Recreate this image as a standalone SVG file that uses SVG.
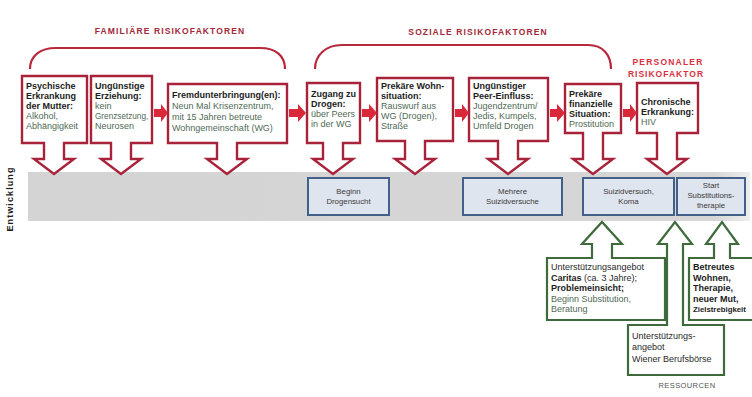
<svg xmlns="http://www.w3.org/2000/svg" width="752" height="397" viewBox="0 0 752 397">
<defs>
<style>
text{font-family:"Liberation Sans",Arial,sans-serif;font-size:9px;fill:#2a2a2a}
.b{font-weight:bold;fill:#1c1c1c}
.d{fill:#4f6a55}
.risk{fill:#fff;stroke:#a8223a;stroke-width:2.4;stroke-linejoin:miter}
.res{fill:#fff;stroke:#3f6b3c;stroke-width:2.2}
.ev{fill:#dfe5ee;stroke:#42608a;stroke-width:2}
.evt{font-size:7.8px;fill:#3a3a3a;text-anchor:middle}
.brace{fill:none;stroke:#b8283c;stroke-width:2.2}
.hdr{font-size:8.5px;font-weight:bold;fill:#a3283a;letter-spacing:1.1px}
.arr{fill:#d8283a}
</style>
<linearGradient id="band" x1="0" y1="0" x2="1" y2="0">
<stop offset="0" stop-color="#d4d4d4"/>
<stop offset="0.95" stop-color="#d6d6d6"/>
<stop offset="1" stop-color="#eeeeee"/>
</linearGradient>
</defs>
<rect width="752" height="397" fill="#ffffff"/>

<g id="headers">
<text class="hdr" x="170" y="34" text-anchor="middle">FAMILIÄRE RISIKOFAKTOREN</text>
<text class="hdr" x="478" y="35" text-anchor="middle">SOZIALE RISIKOFAKTOREN</text>
<text class="hdr" x="668" y="65" text-anchor="middle" style="fill:#d8303f;letter-spacing:1.2px">PERSONALER</text>
<text class="hdr" x="666" y="77" text-anchor="middle" style="fill:#d8303f;letter-spacing:1px">RISIKOFAKTOR</text>
<path class="brace" d="M30,69 C30,56 40,48 56,48 L260,48 C276,48 285,56 285,69"/>
<path class="brace" d="M315,69 C315,55 326,45 342,45 L588,45 C603,45 611,55 611,69"/>
</g>

<g id="band">
<rect x="28" y="172" width="722" height="49" fill="url(#band)"/>
<text class="b" transform="translate(13,199) rotate(-90)" text-anchor="middle" style="letter-spacing:1.1px">Entwicklung</text>
</g>

<g id="r1">
<path class="risk" d="M22,76 H87 V143 H64 V159 H74 L54,174 L34,159 H44 V143 H22 Z"/>
<text x="26" y="89" class="b">Psychische</text>
<text x="26" y="99" class="b">Erkrankung</text>
<text x="26" y="109" class="b">der Mutter:</text>
<text x="26" y="119" class="d">Alkohol,</text>
<text x="26" y="129" class="d">Abhängigkeit</text>
</g>
<g id="r2">
<path class="risk" d="M91,76 H152 V143 H131 V159 H141 L121,174 L101,159 H111 V143 H91 Z"/>
<text x="95" y="89" class="b">Ungünstige</text>
<text x="95" y="99" class="b">Erziehung:</text>
<text x="95" y="109" class="d">kein</text>
<text x="95" y="119" class="d" style="font-size:8.2px">Grenzsetzung,</text>
<text x="95" y="129" class="d">Neurosen</text>
</g>
<g id="r3">
<path class="risk" d="M168,84 H287 V143 H237 V159 H247 L227,174 L207,159 H217 V143 H168 Z"/>
<text x="172" y="98" class="b">Fremdunterbringung(en):</text>
<text x="172" y="109" class="d">Neun Mal Krisenzentrum,</text>
<text x="172" y="120" class="d">mit 15 Jahren betreute</text>
<text x="172" y="131" class="d">Wohngemeinschaft (WG)</text>
</g>
<g id="r4">
<path class="risk" d="M307,83 H360 V143 H343 V159 H353 L333,174 L313,159 H323 V143 H307 Z"/>
<text x="311" y="97" class="b">Zugang zu</text>
<text x="311" y="107" class="b">Drogen:</text>
<text x="311" y="117" class="d">über Peers</text>
<text x="311" y="127" class="d">in der WG</text>
</g>
<g id="r5">
<path class="risk" d="M377,78 H453 V141 H425 V159 H435 L415,174 L395,159 H405 V141 H377 Z"/>
<text x="381" y="89" class="b">Prekäre Wohn-</text>
<text x="381" y="99" class="b">situation:</text>
<text x="381" y="109" class="d">Rauswurf aus</text>
<text x="381" y="119" class="d">WG (Drogen),</text>
<text x="381" y="129" class="d">Straße</text>
</g>
<g id="r6">
<path class="risk" d="M469,78 H548 V141 H518 V159 H528 L508,174 L488,159 H498 V141 H469 Z"/>
<text x="473" y="89" class="b">Ungünstiger</text>
<text x="473" y="99" class="b">Peer-Einfluss:</text>
<text x="473" y="109" class="d">Jugendzentrum/</text>
<text x="473" y="119" class="d">Jedis, Kumpels,</text>
<text x="473" y="129" class="d">Umfeld Drogen</text>
</g>
<g id="r7">
<path class="risk" d="M565,84 H621 V133 H603 V159 H613 L593,174 L573,159 H583 V133 H565 Z"/>
<text x="569" y="97" class="b">Prekäre</text>
<text x="569" y="107" class="b">finanzielle</text>
<text x="569" y="117" class="b">Situation:</text>
<text x="569" y="127" class="d">Prostitution</text>
</g>
<g id="r8">
<path class="risk" d="M637,83 H698 V133 H677 V159 H687 L667,174 L647,159 H657 V133 H637 Z"/>
<text x="641" y="105" class="b">Chronische</text>
<text x="641" y="115" class="b">Erkrankung:</text>
<text x="641" y="125" class="d">HIV</text>
</g>

<g id="e1"><rect class="ev" x="308" y="178" width="81" height="37"/>
<text class="evt" x="348.5" y="194">Beginn</text><text class="evt" x="348.5" y="204">Drogensucht</text></g>
<g id="e2"><rect class="ev" x="463" y="178" width="99" height="37"/>
<text class="evt" x="512.5" y="194">Mehrere</text><text class="evt" x="512.5" y="204">Suizidversuche</text></g>
<g id="e3"><rect class="ev" x="583" y="178" width="91" height="37"/>
<text class="evt" x="628.5" y="194">Suizidversuch,</text><text class="evt" x="628.5" y="204">Koma</text></g>
<g id="e4"><rect class="ev" x="677" y="178" width="68" height="37"/>
<text class="evt" x="711" y="188">Start</text><text class="evt" x="711" y="198">Substitutions-</text><text class="evt" x="711" y="208">therapie</text></g>

<g id="g1">
<path class="res" d="M547,320 H665 V258 H612 V244 H622 L602,222 L582,244 H592 V258 H547 Z"/>
<text x="551" y="270">Unterstützungsangebot</text>
<text x="551" y="280.5"><tspan class="b">Caritas</tspan> (ca. 3 Jahre);</text>
<text x="551" y="291" class="b">Problemeinsicht;</text>
<text x="551" y="301.5" class="d">Beginn Substitution,</text>
<text x="551" y="312" class="d">Beratung</text>
</g>
<g id="g2">
<path class="res" d="M628,375 H724 V325 H683 V244 H692 L675,222 L658,244 H667 V325 H628 Z"/>
<text x="632" y="339">Unterstützungs-</text>
<text x="632" y="350">angebot</text>
<text x="632" y="362">Wiener Berufsbörse</text>
</g>
<g id="g3">
<path class="res" d="M689,320 H756 V258 H730 V244 H738 L722,222 L706,244 H714 V258 H689 Z"/>
<text x="693" y="270" class="b">Betreutes</text>
<text x="693" y="280.5" class="b">Wohnen,</text>
<text x="693" y="291" class="b">Therapie,</text>
<text x="693" y="301.5" class="b">neuer Mut,</text>
<text x="693" y="312" class="b" style="font-size:7.8px">Zielstrebigkeit</text>
</g>
<text x="687" y="388" text-anchor="middle" style="font-size:7.5px;fill:#555;letter-spacing:0.4px">RESSOURCEN</text>

<g id="connectors">
<path class="arr" d="M154,109 H161 V104 L168,113 L161,122 V117 H154 Z"/>
<path class="arr" d="M289,109 H298 V104 L306,113 L298,122 V117 H289 Z"/>
<path class="arr" d="M362,109 H369 V104 L377,113 L369,122 V117 H362 Z"/>
<path class="arr" d="M455,109 H462 V104 L469,113 L462,122 V117 H455 Z"/>
<path class="arr" d="M550,109 H557 V104 L565,113 L557,122 V117 H550 Z"/>
<path class="arr" d="M623,109 H630 V104 L637,113 L630,122 V117 H623 Z"/>
</g>
</svg>
